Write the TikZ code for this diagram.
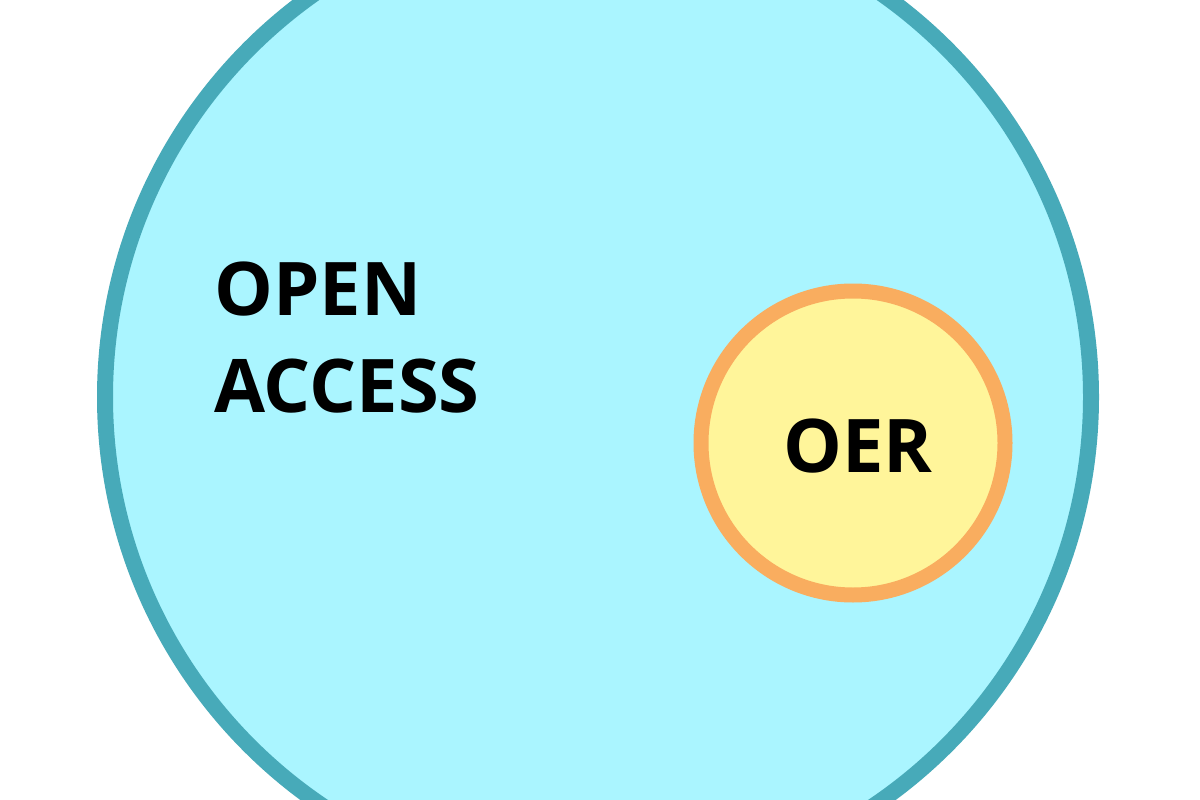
\documentclass[tikz,border=0pt]{standalone}
\usepackage{fontspec}
\setmainfont{Open Sans}
\definecolor{oafill}{HTML}{AAF5FF}
\definecolor{oaline}{HTML}{47AAB9}
\definecolor{oerfill}{HTML}{FFF59A}
\definecolor{oerline}{HTML}{F9AD5F}
\begin{document}
\begin{tikzpicture}[x=1pt,y=-1pt,
  bigset/.style={circle, inner sep=0pt, minimum size=986pt, draw=oaline, fill=oafill, line width=16pt},
  smallset/.style={circle, inner sep=0pt, minimum size=304pt, draw=oerline, fill=oerfill, line width=15pt},
  lbl/.style={inner sep=0pt, font=\fontsize{74}{90}\selectfont\bfseries, text=black}]
\useasboundingbox (0,0) rectangle (1200,800);
\clip (0,0) rectangle (1200,800);
\fill[white] (0,0) rectangle (1200,800);
\node[bigset] (oa) at (598,397) {};
\node[smallset] (oer) at (853,443) {};
\node[lbl, anchor=base west] (t1) at (214,315) {OPEN};
\node[lbl, anchor=base west] (t2) at (214,412) {ACCESS};
\node[lbl, anchor=base] (t3) at (858,472) {OER};
\end{tikzpicture}
\end{document}
